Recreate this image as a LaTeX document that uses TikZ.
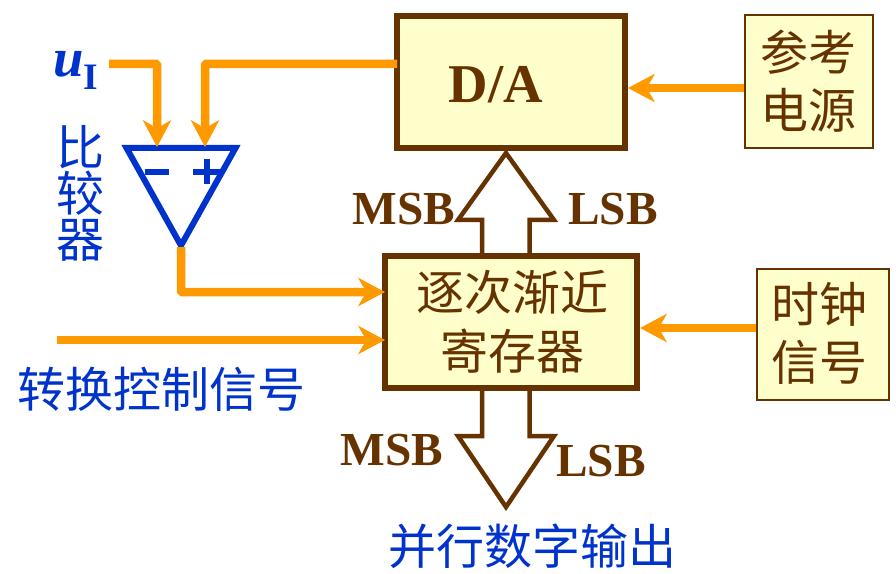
\documentclass[tikz,border=0pt]{standalone}
\usepackage{fontspec}
\setmainfont{Liberation Serif}
\newfontfamily\cjk{Noto Sans CJK SC}
\usetikzlibrary{arrows.meta,calc}
\definecolor{orangeline}{HTML}{FF9900}
\definecolor{brownline}{HTML}{663300}
\definecolor{bluetext}{HTML}{0033CC}
\definecolor{boxfill}{HTML}{FFFFCC}
\newcommand{\cjkfs}{\fontsize{36pt}{34.5pt}\selectfont\cjk}
\tikzset{
  x=0.75pt,y=-0.75pt,
  px/.style={line width=#1*0.75pt},
  thickbox/.style={draw=brownline,fill=boxfill,px=6,inner sep=0pt,rectangle,minimum width=#1},
  thinbox/.style={draw=brownline,fill=boxfill,px=2,inner sep=0pt,rectangle},
  sig/.style={draw=orangeline,px=8.5,rounded corners=0.8pt,-{Stealth[length=20pt,width=21pt,inset=6pt,fill=orangeline]}},
  hollow/.style={draw=brownline,fill=white,px=4.5,miter limit=10},
  cmp/.style={draw=bluetext,px=6,miter limit=10,line join=miter},
  bluecjk/.style={text=bluetext,font=\cjkfs,inner sep=0pt,align=center},
  browncjk/.style={text=brownline,font=\cjkfs,inner sep=0pt,align=center},
  blab/.style={text=brownline,font=\fontsize{35.5pt}{35.5pt}\selectfont\bfseries,inner sep=0pt},
}
\begin{document}
\begin{tikzpicture}
\useasboundingbox (0,0) rectangle (896,574);
% hollow bus arrows (drawn first so the boxes cover their stems)
\coordinate (upS1) at (482,256); \coordinate (upS2) at (529.5,256);
\coordinate (dnS1) at (482,388); \coordinate (dnS2) at (529.5,388);
\draw[hollow] (upS1) -- (482,220) -- (458,220) -- (506,153) -- (554,220) -- (529.5,220) -- (upS2);
\draw[hollow] (dnS1) -- (482,436) -- (458,436) -- (506,507) -- (554,436) -- (529.5,436) -- (dnS2);
% blocks
\node[thickbox=228*0.75pt,minimum height=132*0.75pt] (da) at (511,82) {};
\node[text=brownline,font=\fontsize{41pt}{41pt}\selectfont\bfseries,inner sep=0pt] (datext) at (496,85) {D/A};
\node[thickbox=252*0.75pt,minimum height=132*0.75pt] (sar) at (511,322) {};
\node[browncjk] (sartext) at (512,322) {逐次渐近\\[9.5pt]寄存器};
\node[thinbox,minimum width=128*0.75pt,minimum height=133*0.75pt] (ref) at (809,82) {};
\node[browncjk] (reftext) at (808,81) {参考\\[9pt]电源};
\node[thinbox,minimum width=132*0.75pt,minimum height=131*0.75pt] (clk) at (823,334) {};
\node[browncjk] (clktext) at (819,333) {时钟\\[9pt]信号};
% comparator
\coordinate (cL) at (126.5,148);
\coordinate (cR) at (235.5,148);
\coordinate (cA) at (181,245.5);
\draw[cmp] (cL) -- (cR) -- (cA) -- cycle;
\draw[draw=bluetext,px=6] (145,172) -- (169,172);
\draw[draw=bluetext,px=5.5] (193,172) -- (220,172) (207,159) -- (207,184);
% input anchors
\coordinate (uS) at (109,64);
\coordinate (ctrl) at (57,340);
\coordinate (nIn) at (157,147);
\coordinate (pIn) at (205,147);
\coordinate (cOut) at (181,247);
% connectors
\draw[sig] (uS) -- (157,64) -- (nIn);
\draw[sig,shorten <=-2.25pt] (da.west |- 0,64) -- (205,64) -- (pIn);
\draw[sig,shorten >=-2.25pt] (cOut) -- (181,292) -- (sar.west |- 0,292);
\draw[sig,shorten >=-2.25pt] (ctrl) -- (sar.west |- 0,340);
\draw[sig] (ref.west |- 0,88) -- (da.east |- 0,88);
\draw[sig] (clk.west |- 0,328) -- (sar.east |- 0,328);
% labels
\node[text=bluetext,font=\fontsize{41pt}{41pt}\selectfont\bfseries\itshape,inner sep=0pt,anchor=base west] (u) at (53,77) {u};
\node[text=bluetext,font=\fontsize{28pt}{28pt}\selectfont\bfseries,inner sep=0pt,anchor=base west] (ui) at (83,90) {I};
\node[bluecjk] (bij) at (80,193) {比\\较\\器};
\node[bluecjk] (ctrltext) at (161,389) {转换控制信号};
\node[bluecjk] (out) at (532,546) {并行数字输出};
\node[blab] (m1) at (404,209) {MSB};
\node[blab] (l1) at (613,209) {LSB};
\node[blab] (m2) at (392,450) {MSB};
\node[blab] (l2) at (601,461) {LSB};
\end{tikzpicture}
\end{document}
